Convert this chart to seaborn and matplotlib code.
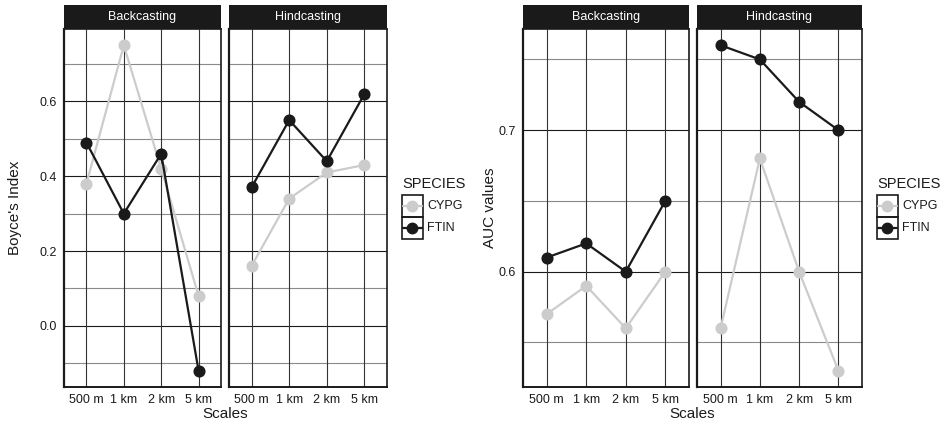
import matplotlib
matplotlib.use("Agg")
import matplotlib.pyplot as plt
from matplotlib.patches import Rectangle
from matplotlib.lines import Line2D
import seaborn as sns
import pandas as pd

scales = ["500 m", "1 km", "2 km", "5 km"]
species = ["CYPG", "FTIN"]
methods = ["Backcasting", "Hindcasting"]

boyce_back_cypg = [0.38, 0.75, 0.42, 0.08]
boyce_back_ftin = [0.49, 0.30, 0.46, -0.12]
boyce_hind_cypg = [0.16, 0.34, 0.41, 0.43]
boyce_hind_ftin = [0.37, 0.55, 0.44, 0.62]

auc_back_cypg = [0.57, 0.59, 0.56, 0.60]
auc_back_ftin = [0.61, 0.62, 0.60, 0.65]
auc_hind_cypg = [0.56, 0.68, 0.60, 0.53]
auc_hind_ftin = [0.76, 0.75, 0.72, 0.70]

boyce_major = [0.0, 0.2, 0.4, 0.6]
boyce_minor = [-0.1, 0.1, 0.3, 0.5, 0.7]
auc_major = [0.6, 0.7]
auc_minor = [0.55, 0.65, 0.75]

palette = {"CYPG": "#cccccc", "FTIN": "#1a1a1a"}


def make_df(cypg, ftin):
    rows = []
    for s, v in zip(scales, cypg):
        rows.append({"Scale": s, "value": v, "SPECIES": "CYPG"})
    for s, v in zip(scales, ftin):
        rows.append({"Scale": s, "value": v, "SPECIES": "FTIN"})
    return pd.DataFrame(rows)


sns.set_style("white")
plt.rcParams["font.family"] = ["Liberation Sans", "DejaVu Sans"]

W, H = 945, 425
fig = plt.figure(figsize=(W / 100, H / 100), dpi=100)


def px_axes(x0, x1, ytop, ybot):
    return fig.add_axes([x0 / W, 1 - ybot / H, (x1 - x0) / W, (ybot - ytop) / H])


def draw_panel(ax, df, ylim, major, minor, show_y):
    ax.set_ylim(*ylim)
    ax.set_xlim(-0.6, 3.6)
    for v in minor:
        ax.axhline(v, color="#8a8a8a", lw=0.8, zorder=0)
    for v in major:
        ax.axhline(v, color="#1a1a1a", lw=0.8, zorder=0)
    for i in range(len(scales)):
        ax.axvline(i, color="#333333", lw=0.8, zorder=0)
    sns.pointplot(data=df, x="Scale", y="value", hue="SPECIES", order=scales,
                  hue_order=species, palette=palette, markers="o", linestyles="-",
                  dodge=False, errorbar=None, ax=ax, markersize=7.5, linewidth=1.6,
                  legend=False)
    ax.set_xlim(-0.6, 3.6)
    ax.set_ylim(*ylim)
    ax.set_yticks(major)
    if show_y:
        ax.set_yticklabels([f"{v:.1f}" for v in major])
    else:
        ax.set_yticklabels([])
    ax.set_xlabel("")
    ax.set_ylabel("")
    ax.tick_params(axis="both", which="major", length=3, width=0.8, color="#333333",
                   labelsize=9, labelcolor="#1a1a1a", pad=2)
    if not show_y:
        ax.tick_params(axis="y", length=0)
    for sp in ax.spines.values():
        sp.set_visible(True)
        sp.set_color("#1a1a1a")
        sp.set_linewidth(1.2)
    ax.spines["left"].set_linewidth(1.6)
    ax.spines["bottom"].set_linewidth(1.4)


def strip(x0, x1, text):
    sa = px_axes(x0, x1, 5, 29)
    sa.set_facecolor("#1a1a1a")
    sa.set_xticks([])
    sa.set_yticks([])
    for sp in sa.spines.values():
        sp.set_visible(False)
    sa.text(0.5, 0.5, text, color="white", ha="center", va="center",
            fontsize=9, transform=sa.transAxes)


def legend_block(x0, ytitle):
    fig.text(x0 / W, 1 - ytitle / H, "SPECIES", fontsize=10.5, ha="left", va="center",
             color="#1a1a1a")
    for k, sp in enumerate(species):
        ytop = 195 + k * 22
        fig.patches.append(Rectangle((x0 / W, 1 - (ytop + 22) / H), 21 / W, 22 / H,
                                     transform=fig.transFigure, fill=False,
                                     edgecolor="#1a1a1a", lw=1.2))
        fig.text((x0 + 25) / W, 1 - (ytop + 11) / H, sp, fontsize=9, ha="left",
                 va="center", color="#1a1a1a")
        yc = 1 - (ytop + 11) / H
        fig.lines.append(Line2D([(x0 + 1) / W, (x0 + 20) / W], [yc, yc],
                                transform=fig.transFigure, color=palette[sp], lw=1.6))
        fig.lines.append(Line2D([(x0 + 10.5) / W], [yc], transform=fig.transFigure,
                                color=palette[sp], marker="o", markersize=7.5, lw=0))


panels = [
    (64, 221, make_df(boyce_back_cypg, boyce_back_ftin), (-0.1635, 0.7935), boyce_major, boyce_minor, True, "Backcasting"),
    (229, 387, make_df(boyce_hind_cypg, boyce_hind_ftin), (-0.1635, 0.7935), boyce_major, boyce_minor, False, "Hindcasting"),
    (523, 689, make_df(auc_back_cypg, auc_back_ftin), (0.5185, 0.7715), auc_major, auc_minor, True, "Backcasting"),
    (697, 862, make_df(auc_hind_cypg, auc_hind_ftin), (0.5185, 0.7715), auc_major, auc_minor, False, "Hindcasting"),
]

for x0, x1, df, ylim, major, minor, show_y, name in panels:
    ax = px_axes(x0, x1, 29, 387)
    draw_panel(ax, df, ylim, major, minor, show_y)
    strip(x0, x1, name)

fig.text(15 / W, 1 - 208 / H, "Boyce's Index", rotation=90, ha="center", va="center",
         fontsize=11, color="#1a1a1a")
fig.text(490 / W, 1 - 208 / H, "AUC values", rotation=90, ha="center", va="center",
         fontsize=11, color="#1a1a1a")
fig.text(225.5 / W, 1 - 414 / H, "Scales", ha="center", va="center", fontsize=11,
         color="#1a1a1a")
fig.text(692 / W, 1 - 414 / H, "Scales", ha="center", va="center", fontsize=11,
         color="#1a1a1a")

for x0 in (402, 877):
    legend_block(x0, 184)

fig.savefig("out.png", dpi=100)
